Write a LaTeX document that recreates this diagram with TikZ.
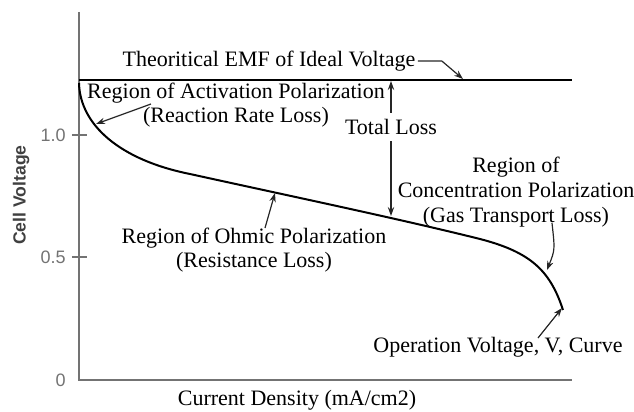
\documentclass[tikz,border=0pt]{standalone}
\usepackage{fontspec}
\setmainfont{Liberation Serif}
\newfontfamily\axisfont{Liberation Sans}
\usetikzlibrary{arrows.meta}

\tikzset{
    lbl/.style={font=\fontsize{11}{12.2}\selectfont, align=center, inner sep=1pt},
    ticklbl/.style={font=\axisfont\fontsize{9}{10}\selectfont, text=black!55, anchor=east, inner sep=1pt},
    axisline/.style={draw=black!55, line width=1pt},
    pointer/.style={draw=black!85, line width=0.6pt, -{Stealth[length=4.5pt,width=3.2pt]}}
}

\begin{document}
\begin{tikzpicture}[x=0.5pt, y=-0.5pt]
\useasboundingbox (0,0) rectangle (634,412);

\draw[axisline] (79,12) -- (79,380) -- (572,380);
\foreach \y/\v in {135/1.0, 257/0.5} {
    \draw[axisline] (72,\y) -- (87,\y);
    \node[ticklbl] at (68,\y) {\v};
}
\node[ticklbl] at (68,380) {0};

\node[font=\axisfont\bfseries\fontsize{8.8}{10}\selectfont, text=black!75, rotate=90] (ylab) at (21,195) {Cell Voltage};
\node[lbl] (xlab) at (297,400) {Current Density (mA/cm2)};

\draw[line width=1pt] (79,80) -- (572,80);
\draw[line width=1pt] (79,83) .. controls (80,125) and (120,160) .. (190,174)
    .. controls (290,196) and (400,219) .. (480,239)
    .. controls (530,252) and (550,270) .. (563,310);

\coordinate (emfTip) at (463,79);
\coordinate (actTip) at (96,124);
\coordinate (ohmTip) at (275,193);
\coordinate (concTip) at (547,270);
\coordinate (operTip) at (562,308);
\coordinate (topTip) at (391,81);
\coordinate (lowTip) at (391,216);

\node[lbl] (emf) at (269,61) {Theoritical EMF of Ideal Voltage};
\node[lbl] (act) at (236,105) {Region of Activation Polarization\\(Reaction Rate Loss)};
\node[lbl, inner sep=3pt] (total) at (391,127) {Total Loss};
\node[lbl, font=\fontsize{11}{12.6}\selectfont] (conc) at (516,192) {Region of\\Concentration Polarization\\(Gas Transport Loss)};
\node[lbl] (ohmic) at (254,250) {Region of Ohmic Polarization\\(Resistance Loss)};
\node[lbl] (oper) at (498,347) {Operation Voltage, V, Curve};

\draw[pointer] (emf.east) -- ++(24,0) -- (emfTip);
\draw[pointer] (151,104) -- (actTip);
\draw[pointer] (total.north) -- (topTip);
\draw[pointer] (total.south) -- (lowTip);
\draw[pointer] (265,228) -- (ohmTip);
\draw[pointer] (552,223) .. controls (555,250) .. (concTip);
\draw[pointer] (538,338) -- (operTip);
\end{tikzpicture}
\end{document}
